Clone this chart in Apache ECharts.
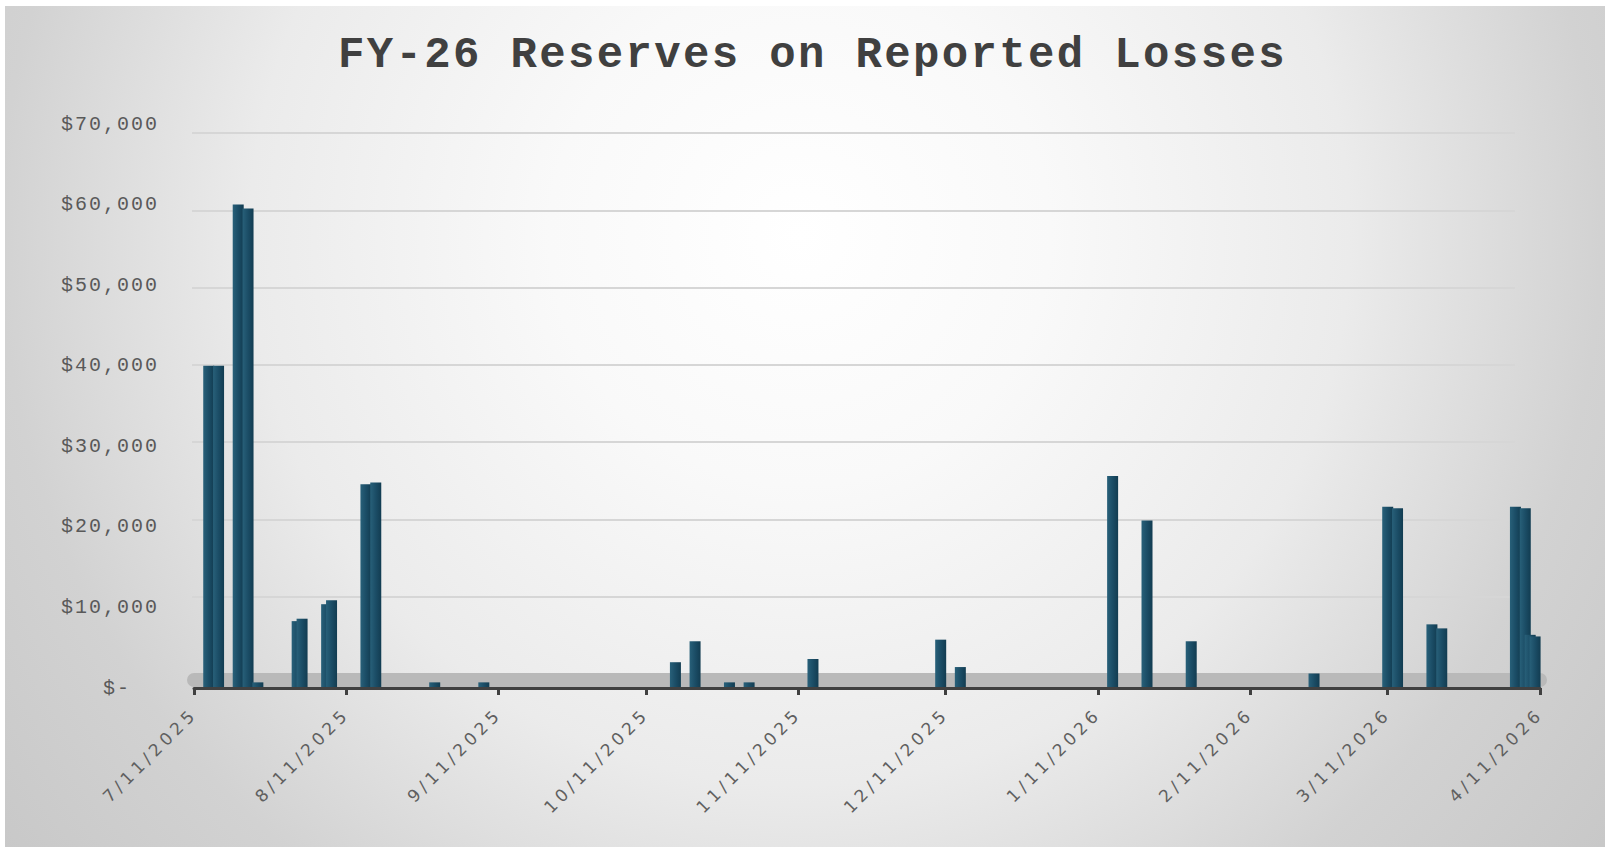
<!DOCTYPE html>
<html>
<head>
<meta charset="utf-8">
<title>FY-26 Reserves on Reported Losses</title>
<script src="https://cdn.jsdelivr.net/npm/echarts@6.0.0/dist/echarts.min.js"></script>
<style>
  html, body { margin: 0; padding: 0; background: #fff; }
  .bg {
    position: absolute; left: 5px; top: 6px; width: 1600px; height: 841px;
    background: radial-gradient(circle 1050px at 795px 229px, #ffffff 0px, #f9f9f9 250px, #ebebeb 550px, #d2d2d2 800px, #c6c6c6 1050px);
  }
  #main { position: absolute; left: 0; top: 0; width: 1605px; height: 847px; }
  /* excel-style expanded character spacing */
  #main text[style*="Liberation"] { letter-spacing: 2px; }
  #main text[style*="bold"] { letter-spacing: 2.35px; }
  #main text[style*="DejaVu"] { letter-spacing: 4.2px; }
</style>
</head>
<body>
<div class="bg"></div>
<div id="main"></div>
<script>
// report dates and reserve amounts
const lossDates = [
  "2025-07-14", "2025-07-16", "2025-07-20", "2025-07-22", "2025-07-24",
  "2025-08-01", "2025-08-02", "2025-08-07", "2025-08-08", "2025-08-15",
  "2025-08-17", "2025-08-29", "2025-09-08", "2025-10-17", "2025-10-21",
  "2025-10-28", "2025-11-01", "2025-11-14", "2025-12-10", "2025-12-14",
  "2026-01-14", "2026-01-21", "2026-01-30", "2026-02-24", "2026-03-11",
  "2026-03-13", "2026-03-20", "2026-03-22", "2026-04-06", "2026-04-08",
  "2026-04-09", "2026-04-10"
]
const reserves = [
  40000, 40000, 60000, 59500, 700,
  8300, 8600, 10400, 10900, 25300,
  25500, 700, 700, 3200, 5800,
  700, 700, 3600, 6000, 2600,
  26300, 20800, 5800, 1800, 22500,
  22300, 7900, 7400, 22500, 22300,
  6600, 6400
]
const tickDates = [
  "2025-07-11", "2025-08-11", "2025-09-11", "2025-10-11", "2025-11-11",
  "2025-12-11", "2026-01-11", "2026-02-11", "2026-03-11", "2026-04-11"
]
const yTicks = [0, 10000, 20000, 30000, 40000, 50000, 60000, 70000]

function toTime (s) {
  const p = s.split("-")
  return new Date(+p[0], +p[1] - 1, +p[2]).getTime()
}

const tickTimes = tickDates.map(toTime)
const barData = lossDates.map((d, i) => [toTime(d), reserves[i]])
const tMin = tickTimes[0]
const tMax = tickTimes[tickTimes.length - 1]

const myChart = echarts.init(document.getElementById("main"), null, { renderer: "svg" })

const option = {
  backgroundColor: "transparent",
  animation: false,
  title: {
    text: "FY-26 Reserves on Reported Losses",
    left: 338,
    top: 33,
    textAlign: "left",
    padding: 0,
    textStyle: {
      fontFamily: "Liberation Mono",
      fontWeight: "bold",
      fontSize: 44,
      color: "#404040"
    }
  },
  grid: [
    { left: 194, right: 65, top: 124, bottom: 159 },
    // back wall with the gridlines
    { left: 192, right: 90, top: 133, bottom: 173 }
  ],
  xAxis: [
    {
      type: "value",
      gridIndex: 0,
      position: "bottom",
      min: tMin,
      max: tMax,
      z: 3,
      axisLine: { lineStyle: { color: "#404040", width: 3 } },
      axisTick: {
        customValues: tickTimes,
        length: 7,
        lineStyle: { color: "#404040", width: 3 }
      },
      splitLine: { show: false },
      axisLabel: {
        customValues: tickTimes,
        rotate: 45,
        margin: 23,
        fontFamily: "DejaVu Sans",
        fontSize: 17,
        color: "#5f5f5f",
        formatter: function (v) {
          const d = new Date(v)
          return (d.getMonth() + 1) + "/" + d.getDate() + "/" + d.getFullYear()
        }
      }
    },
    {
      type: "value",
      gridIndex: 1,
      min: tMin,
      max: tMax,
      show: false
    },
    {
      // floor of the chart
      type: "value",
      gridIndex: 0,
      position: "bottom",
      min: tMin,
      max: tMax,
      offset: -8,
      z: 0,
      axisLine: { lineStyle: { color: "#b9b9b9", width: 14 } },
      axisTick: { show: false },
      axisLabel: { show: false },
      splitLine: { show: false }
    }
  ],
  yAxis: [
    {
      type: "value",
      gridIndex: 0,
      min: yTicks[0],
      max: yTicks[yTicks.length - 1],
      interval: 10000,
      axisLine: { show: false },
      axisTick: { show: false },
      splitLine: { show: false },
      axisLabel: {
        margin: 35,
        fontFamily: "Liberation Mono",
        fontSize: 20,
        color: "#595959",
        formatter: function (v) {
          return v === 0 ? "$-\u00a0\u00a0" : "$" + v.toLocaleString("en-US")
        }
      }
    },
    {
      type: "value",
      gridIndex: 1,
      min: yTicks[0],
      max: yTicks[yTicks.length - 1],
      interval: 10000,
      axisLine: { show: false },
      axisTick: { show: false },
      axisLabel: { show: false },
      splitLine: { lineStyle: { color: "#d6d6d6", width: 2 } }
    }
  ],
  series: [
    {
      type: "bar",
      xAxisIndex: 0,
      yAxisIndex: 0,
      barWidth: 11,
      data: barData,
      itemStyle: {
        color: new echarts.graphic.LinearGradient(0, 0, 1, 0, [
          { offset: 0, color: "#286079" },
          { offset: 0.5, color: "#1b4d66" },
          { offset: 1, color: "#123c51" }
        ])
      }
    }
  ]
}

option && myChart.setOption(option)
</script>
</body>
</html>
